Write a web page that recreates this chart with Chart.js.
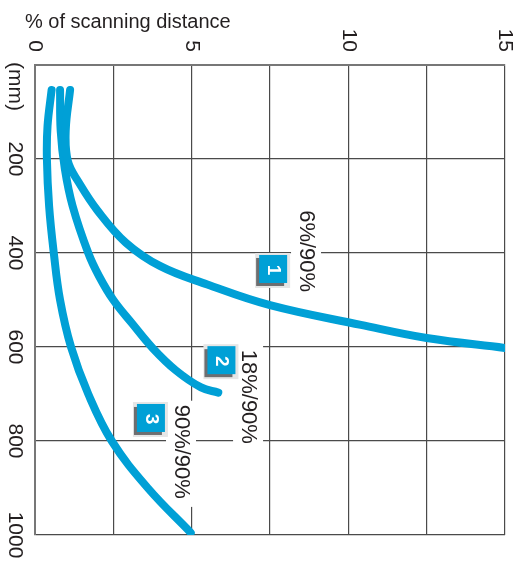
<!DOCTYPE html>
<html>
<head>
<meta charset="utf-8">
<script src="https://cdn.jsdelivr.net/npm/chart.js@4"></script>
<style>
  html, body { margin: 0; padding: 0; background: #fff; }
  #wrap { width: 523px; height: 561px; }
</style>
</head>
<body>
<div id="wrap"><canvas id="chart" width="523" height="561"></canvas></div>
<script>
const xTitle = "% of scanning distance";
const yUnit = "(mm)";
const xTickLabels = [0, 5, 10, 15];
const yTickLabels = [200, 400, 600, 800, 1000];

const seriesNames = ["6%/90%", "18%/90%", "90%/90%"];
const seriesNumbers = ["1", "2", "3"];

// curve 1: 6%/90%
const curve1Pct = [1.12, 0.98, 1.05, 1.4, 2.0, 2.9, 4.0, 5.5, 7.5, 10.4, 12.5, 15];
const curve1Mm = [53, 140, 205, 250, 310, 378, 428, 467, 511, 553, 581, 602];
// curve 2: 18%/90%
const curve2Pct = [0.8, 0.82, 0.95, 1.2, 1.7, 2.05, 2.5, 3.1, 3.75, 4.5, 5.3, 5.85];
const curve2Mm = [53, 140, 220, 300, 400, 450, 500, 550, 602, 650, 686, 697];
// curve 3: 90%/90%
const curve3Pct = [0.53, 0.4, 0.38, 0.45, 0.6, 0.8, 1.15, 1.7, 2.45, 3.6, 4.97];
const curve3Mm = [53, 130, 200, 300, 400, 500, 600, 700, 800, 900, 995];

const BLUE = "#00a0d6";
const FONT = '"Liberation Sans", Arial, sans-serif';

function toPoints(xs, ys) {
  return xs.map((v, i) => ({ x: v, y: ys[i] }));
}

function curve(xs, ys, name) {
  return {
    label: name,
    data: toPoints(xs, ys),
    showLine: true,
    borderColor: BLUE,
    backgroundColor: BLUE,
    borderWidth: 8,
    borderCapStyle: "round",
    borderJoinStyle: "round",
    pointRadius: 0,
    tension: 0.4
  };
}

// annotation anchors in data units (pct, mm)
const badgePos = [[7.6, 434], [5.95, 628], [3.7, 751]];
const namePos = [[8.65, 396], [6.8, 706], [4.66, 823]];

function rotText(ctx, text, px, py, align) {
  ctx.save();
  ctx.translate(px, py);
  ctx.rotate(Math.PI / 2);
  ctx.textAlign = align;
  ctx.textBaseline = "middle";
  ctx.fillText(text, 0, 0);
  ctx.restore();
}

const textPlugin = {
  id: "rotatedText",
  beforeDatasetsDraw(chart) {
    // white backing behind the series names, so the grid breaks there
    const { ctx, scales: { x, y } } = chart;
    ctx.save();
    ctx.font = "22px " + FONT;
    ctx.fillStyle = "#fff";
    seriesNames.forEach((name, i) => {
      const px = x.getPixelForValue(namePos[i][0]);
      const py = y.getPixelForValue(namePos[i][1]);
      const w = ctx.measureText(name).width;
      ctx.fillRect(px - 15, py - w / 2 - 4, 30, w + 12);
    });
    ctx.restore();
  },
  afterDraw(chart) {
    const { ctx, scales: { x, y } } = chart;
    ctx.save();
    ctx.fillStyle = "#231f20";
    ctx.font = "20px " + FONT;
    ctx.textAlign = "left";
    ctx.textBaseline = "alphabetic";
    ctx.fillText(xTitle, 25, 28);

    ctx.font = "21px " + FONT;
    xTickLabels.forEach(v => rotText(ctx, String(v), x.getPixelForValue(v), y.top - 13, "right"));
    yTickLabels.forEach(v => rotText(ctx, String(v), 15, y.getPixelForValue(v), "center"));
    rotText(ctx, yUnit, 15, y.top - 3, "left");

    ctx.font = "22px " + FONT;
    seriesNames.forEach((name, i) => {
      rotText(ctx, name, x.getPixelForValue(namePos[i][0]), y.getPixelForValue(namePos[i][1]), "center");
    });

    // numbered badges
    seriesNumbers.forEach((num, i) => {
      const cx = x.getPixelForValue(badgePos[i][0]);
      const cy = y.getPixelForValue(badgePos[i][1]);
      ctx.fillStyle = "#e6e6e6";
      ctx.fillRect(cx - 18, cy - 16, 35, 35);
      ctx.fillStyle = "#6d6e70";
      ctx.fillRect(cx - 17, cy - 11, 28, 28);
      ctx.fillStyle = BLUE;
      ctx.fillRect(cx - 14, cy - 14, 28, 28);
      ctx.fillStyle = "#fff";
      ctx.font = "bold 19px " + FONT;
      rotText(ctx, num, cx, cy + 1, "center");
    });
    ctx.restore();
  }
};

new Chart(document.getElementById("chart"), {
  type: "scatter",
  data: {
    datasets: [
      curve(curve1Pct, curve1Mm, seriesNames[0]),
      curve(curve2Pct, curve2Mm, seriesNames[1]),
      curve(curve3Pct, curve3Mm, seriesNames[2])
    ]
  },
  options: {
    responsive: false,
    animation: false,
    layout: { padding: { left: 35, top: 65, right: 18, bottom: 26 } },
    plugins: { legend: { display: false }, tooltip: { enabled: false } },
    scales: {
      x: {
        type: "linear",
        position: "top",
        min: 0,
        max: 15,
        ticks: { display: false, stepSize: 2.5 },
        grid: { color: "#4a4a4a", lineWidth: 1.2, drawTicks: false },
        border: { color: "#777", width: 2 }
      },
      y: {
        type: "linear",
        reverse: true,
        min: 0,
        max: 1000,
        ticks: { display: false, stepSize: 200 },
        grid: { color: "#4a4a4a", lineWidth: 1.2, drawTicks: false },
        border: { color: "#777", width: 2 }
      }
    }
  },
  plugins: [textPlugin]
});
</script>
</body>
</html>
